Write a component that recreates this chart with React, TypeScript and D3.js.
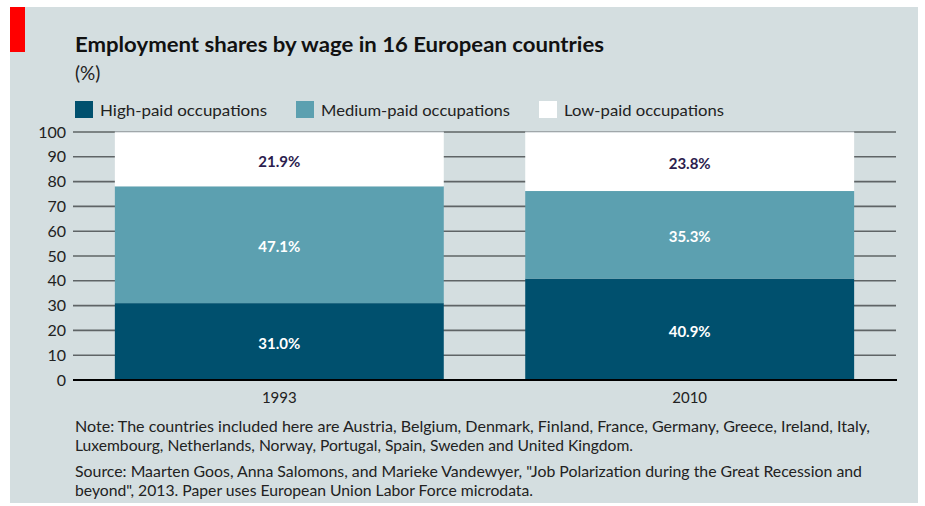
import React from "react";
import * as d3 from "d3";

const years = ["1993", "2010"];
const highPaid = [31.0, 40.9];
const mediumPaid = [47.1, 35.3];
const lowPaid = [21.9, 23.8];
const seriesNames = ["High-paid occupations", "Medium-paid occupations", "Low-paid occupations"];
const yTicks = [0, 10, 20, 30, 40, 50, 60, 70, 80, 90, 100];

const colors = ["#00506e", "#5ca0b0", "#ffffff"];
const labelColors = ["#ffffff", "#ffffff", "#2b1d4e"];
const FONT = "Lato, 'Open Sans', sans-serif";

export default function App() {
  const W = 925, H = 506;
  const x = d3.scaleBand<string>().domain(years).range([73, 896]).paddingInner(0.1985).paddingOuter(0.102);
  const y = d3.scaleLinear().domain([0, 100]).range([380, 132]);

  const rows = years.map((yr, i) => ({ year: yr, high: highPaid[i], medium: mediumPaid[i], low: lowPaid[i] }));
  const stack = d3.stack<any>().keys(["high", "medium", "low"]);
  const series = stack(rows);

  const legendX = [75, 296, 539];

  return (
    <div style={{ position: "absolute", left: 0, top: 0 }}>
      <svg width={W} height={H} style={{ display: "block" }}>
        <rect x={0} y={0} width={W} height={H} fill="#ffffff" />
        <rect x={10} y={7} width={908} height={496} fill="#d4dee0" />
        <rect x={10} y={7} width={15} height={45} fill="#ff0000" />
        <text x={75} y={52} fontFamily={FONT} fontWeight={700} fontSize={21} fill="#111" textLength={529} lengthAdjust="spacingAndGlyphs">
          Employment shares by wage in 16 European countries
        </text>
        <text x={75} y={80} fontFamily={FONT} fontSize={19} fill="#222">(%)</text>

        {seriesNames.map((s, i) => (
          <g key={s}>
            <rect x={legendX[i]} y={101} width={18} height={17} fill={colors[i]} />
            <text x={legendX[i] + 25} y={116} fontFamily={FONT} fontSize={16} fill="#222"
              textLength={[167, 189, 160][i]} lengthAdjust="spacingAndGlyphs">{s}</text>
          </g>
        ))}

        {yTicks.filter(t => t !== 0).map(t => (
          <line key={t} x1={73} x2={896} y1={y(t)} y2={y(t)} stroke="#5f6466" strokeWidth={1.6} />
        ))}
        {yTicks.map(t => (
          <text key={"l" + t} x={66} y={y(t)} dy="0.35em" textAnchor="end" fontFamily={FONT} fontSize={16} fill="#222">{t}</text>
        ))}

        {series.map((s, si) => (
          <g key={si}>
            {s.map((d, i) => (
              <g key={i}>
                <rect x={x(years[i])} y={y(d[1])} width={x.bandwidth()} height={y(d[0]) - y(d[1])} fill={colors[si]} />
                <text x={(x(years[i]) as number) + x.bandwidth() / 2} y={(y(d[0]) + y(d[1])) / 2} dy="0.5em"
                  textAnchor="middle" fontFamily={FONT} fontWeight={700} fontSize={15} fill={labelColors[si]}>
                  {(d[1] - d[0]).toFixed(1)}%
                </text>
              </g>
            ))}
          </g>
        ))}
        {years.map(yr => (
          <line key={"top" + yr} x1={x(yr)} x2={(x(yr) as number) + x.bandwidth()} y1={y(100)} y2={y(100)} stroke="#c4cccf" strokeWidth={1.2} />
        ))}

        <line x1={73} x2={897} y1={y(0)} y2={y(0)} stroke="#000" strokeWidth={2} />
        {years.map(yr => (
          <text key={"x" + yr} x={(x(yr) as number) + x.bandwidth() / 2} y={403} textAnchor="middle" fontFamily={FONT} fontSize={15} fill="#222">{yr}</text>
        ))}

        <text x={75} y={432} fontFamily={FONT} fontSize={15} fill="#222" textLength={795} lengthAdjust="spacingAndGlyphs">
          Note: The countries included here are Austria, Belgium, Denmark, Finland, France, Germany, Greece, Ireland, Italy,
        </text>
        <text x={75} y={451} fontFamily={FONT} fontSize={15} fill="#222" textLength={558} lengthAdjust="spacingAndGlyphs">
          Luxembourg, Netherlands, Norway, Portugal, Spain, Sweden and United Kingdom.
        </text>
        <text x={75} y={477} fontFamily={FONT} fontSize={15} fill="#222" textLength={787} lengthAdjust="spacingAndGlyphs">
          Source: Maarten Goos, Anna Salomons, and Marieke Vandewyer, "Job Polarization during the Great Recession and
        </text>
        <text x={75} y={496} fontFamily={FONT} fontSize={15} fill="#222" textLength={458} lengthAdjust="spacingAndGlyphs">
          beyond", 2013. Paper uses European Union Labor Force microdata.
        </text>
      </svg>
    </div>
  );
}
